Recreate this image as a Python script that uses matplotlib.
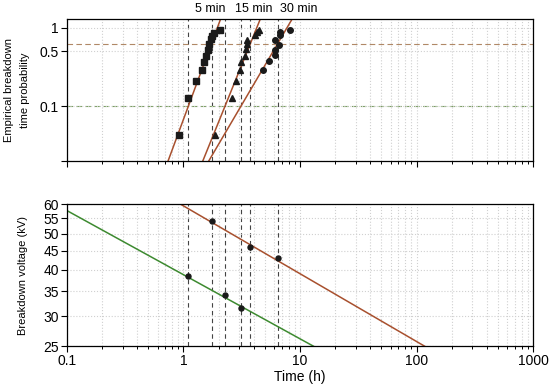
import numpy as np
import matplotlib
matplotlib.use('Agg')
import matplotlib.pyplot as plt
from matplotlib.ticker import FixedLocator, NullFormatter, LogLocator

plt.rcParams['font.family'] = ['Liberation Sans', 'DejaVu Sans']

# Empirical breakdown times (h) and probabilities, one set per test duration
t_5min = [0.91, 1.10, 1.27, 1.45, 1.50, 1.56, 1.61, 1.67, 1.72, 1.77, 1.83, 2.04]
p_5min = [0.043, 0.127, 0.21, 0.292, 0.372, 0.443, 0.529, 0.63, 0.72, 0.80, 0.87, 0.95]
t_15min = [1.88, 2.62, 2.85, 3.04, 3.12, 3.40, 3.45, 3.52, 3.54, 4.14, 4.29, 4.42]
p_15min = [0.043, 0.127, 0.21, 0.29, 0.37, 0.44, 0.54, 0.625, 0.71, 0.82, 0.89, 0.95]
t_30min = [4.83, 5.39, 6.07, 6.15, 6.57, 6.15, 6.70, 6.79, 8.16]
p_30min = [0.294, 0.375, 0.457, 0.53, 0.61, 0.71, 0.82, 0.88, 0.95]

# times at 10 % and 63.2 % probability
t10 = [1.10, 2.27, 3.11]
t63 = [1.74, 3.75, 6.44]

# breakdown voltages (kV) at those times
v63 = [54.1, 46.0, 42.9]
v10 = [38.4, 34.3, 31.6]

# power law lines V = V1 * t^slope
v1_63, slope_63 = 59.3, -0.1815
v1_10, slope_10 = 38.8, -0.1716

labels = ['5 min', '15 min', '30 min']
label_x = [1.70, 3.98, 9.7]

line_col = '#a8502e'
green_col = '#3d8a30'

fig = plt.figure(figsize=(5.5, 3.9), dpi=100)
ax1 = fig.add_axes([0.1218, 0.5872, 0.8473, 0.3641])
ax2 = fig.add_axes([0.1218, 0.1128, 0.8473, 0.3641])

tt = np.logspace(-1, 3, 400)

for ax in (ax1, ax2):
    ax.set_xscale('log')
    ax.set_yscale('log')
    ax.set_xlim(0.1, 1000)
    ax.xaxis.set_major_locator(FixedLocator([0.1, 1, 10, 100, 1000]))
    ax.xaxis.set_minor_locator(LogLocator(base=10, subs=np.arange(2, 10)))
    ax.xaxis.set_minor_formatter(NullFormatter())
    ax.grid(True, which='major', axis='x', color='#d0d0d0', linestyle=':', linewidth=0.8)
    ax.grid(True, which='minor', axis='x', color='#d0d0d0', linestyle=':', linewidth=0.8)
    ax.grid(True, which='major', axis='y', color='#d0d0d0', linestyle=':', linewidth=0.8)
    ax.tick_params(axis='both', which='major', direction='out', length=4, width=0.8, labelsize=10, pad=2)
    ax.tick_params(axis='x', which='minor', direction='out', length=2.5, width=0.7)
    ax.tick_params(axis='y', which='minor', left=False)
    for s in ax.spines.values():
        s.set_linewidth(0.9)
    for t in t10 + t63:
        ax.axvline(t, color='#444444', linestyle=(0, (4, 3)), linewidth=0.8, zorder=1)

# top panel
ax1.set_ylim(0.02, 1.3)
ax1.yaxis.set_major_locator(FixedLocator([0.02, 0.1, 0.5, 1]))
ax1.set_yticklabels(['', '0.1', '0.5', '1'])
ax1.set_xticklabels([])
ax1.axhline(0.632, color='#b08866', linestyle=(0, (5, 3)), linewidth=0.8, zorder=1)
ax1.axhline(0.1, color='#7aa060', linestyle=(0, (5, 3)), linewidth=0.8, zorder=1)

for a, b in zip(t10, t63):
    beta = np.log(0.632 / 0.1) / np.log(b / a)
    ax1.plot(tt, 0.1 * (tt / a) ** beta, color=line_col, linewidth=1.1, zorder=2)

ax1.plot(t_5min, p_5min, 's', color='#1a1a1a', markersize=4, zorder=3)
ax1.plot(t_15min, p_15min, '^', color='#1a1a1a', markersize=4.6, zorder=3)
ax1.plot(t_30min, p_30min, 'o', color='#1a1a1a', markersize=4, zorder=3)

for lab, x in zip(labels, label_x):
    ax1.text(x, 1.03, lab, transform=ax1.get_xaxis_transform(), ha='center', va='bottom', fontsize=9)

ax1.set_ylabel('Empirical breakdown\ntime probability', fontsize=8, labelpad=7, linespacing=1.7)

# bottom panel
ax2.set_ylim(25, 60)
yt = [25, 30, 35, 40, 45, 50, 55, 60]
ax2.yaxis.set_major_locator(FixedLocator(yt))
ax2.set_yticklabels([str(v) for v in yt])
ax2.set_xticklabels(['0.1', '1', '10', '100', '1000'])

ax2.plot(tt, v1_63 * tt ** slope_63, color=line_col, linewidth=1.1, zorder=2)
ax2.plot(tt, v1_10 * tt ** slope_10, color=green_col, linewidth=1.1, zorder=2)
ax2.plot(t63, v63, 'o', color='#1a1a1a', markersize=3.6, zorder=3)
ax2.plot(t10, v10, 'o', color='#1a1a1a', markersize=3.6, zorder=3)

ax2.set_ylabel('Breakdown voltage (kV)', fontsize=8, labelpad=11)
ax2.set_xlabel('Time (h)', fontsize=10, labelpad=1)

fig.savefig('out.png', dpi=100)
